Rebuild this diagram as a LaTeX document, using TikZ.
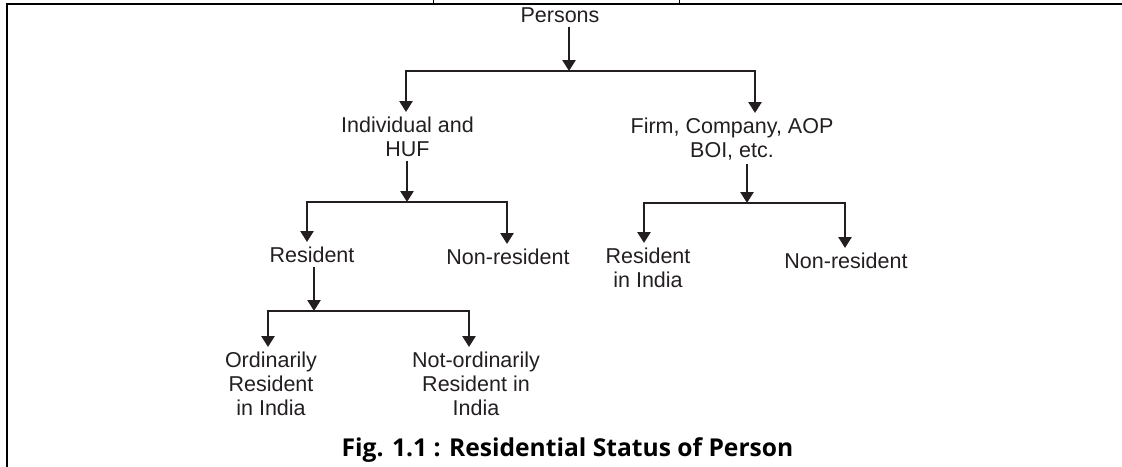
\documentclass[tikz,border=0pt]{standalone}
\usepackage{fontspec}
\setmainfont{Liberation Sans}
\newfontfamily\capfont{Open Sans}
\usetikzlibrary{arrows.meta}
\definecolor{ink}{HTML}{231F20}
\begin{document}
\begin{tikzpicture}[x=0.5pt,y=-0.5pt,
  lbl/.style={inner sep=2pt,anchor=base,align=center,text=ink,font=\fontsize{10.75pt}{12pt}\selectfont},
  conn/.style={draw=ink,line width=1.25pt},
  arr/.style={conn,-{Triangle[width=6.5pt,length=5.5pt]}},
  arrb/.style={conn,{Triangle[width=6.5pt,length=5.5pt]}-{Triangle[width=6.5pt,length=5.5pt]}},
  frame/.style={draw=black,line width=1.4pt},
  tick/.style={draw=black,line width=0.5pt}]
\useasboundingbox (0,0) rectangle (1122,466);
% frame
\coordinate (fbl) at (7,468);
\coordinate (ftl) at (7,4);
\coordinate (ftr) at (1124,4);
\draw[frame] (fbl) -- (ftl) -- (ftr);
\coordinate (t1a) at (433,-1); \coordinate (t1b) at (433,4);
\coordinate (t2a) at (679,-1); \coordinate (t2b) at (679,4);
\draw[tick] (t1a) -- (t1b);
\draw[tick] (t2a) -- (t2b);
% nodes (anchor = baseline of last line)
\node[lbl] (persons) at (560,22) {Persons};
\node[lbl] (ind) at (407.5,156) {Individual and\\HUF};
\node[lbl] (firm) at (732,157) {Firm, Company, AOP\\BOI, etc.};
\node[lbl] (res) at (312,262) {Resident};
\node[lbl] (nonres1) at (508,264) {Non-resident};
\node[lbl] (resin) at (648,287) {Resident\\in India};
\node[lbl] (nonres2) at (846,268) {Non-resident};
\node[lbl] (ord) at (271,415) {Ordinarily\\Resident\\in India};
\node[lbl] (notord) at (476,415) {Not-ordinarily\\Resident in\\India};
\node[anchor=base,inner sep=0pt,text=black,font=\capfont\bfseries\fontsize{12.3pt}{14pt}\selectfont] (cap) at (567.5,456) {Fig. 1.1 : Residential Status of Person};
% junctions
\coordinate (j1) at (569,71);
\coordinate (j1l) at (406,71);
\coordinate (j1r) at (755,71);
\coordinate (j2) at (407,202);
\coordinate (j2l) at (307,202);
\coordinate (j2r) at (507,202);
\coordinate (j3) at (747,203);
\coordinate (j3l) at (644,203);
\coordinate (j3r) at (845,203);
\coordinate (j4) at (314,311);
\coordinate (j4l) at (268,311);
\coordinate (j4r) at (469,311);
% connectors
\draw[arr] (persons.south -| j1) -- (j1);
\draw[arrb] (ind.north -| j1l) -- (j1l) -- (j1r) -- (firm.north -| j1r);
\draw[arr] (ind.south -| j2) -- (j2);
\draw[arrb] (res.north -| j2l) -- (j2l) -- (j2r) -- (nonres1.north -| j2r);
\draw[arr] (firm.south -| j3) -- (j3);
\draw[arrb] (resin.north -| j3l) -- (j3l) -- (j3r) -- (nonres2.north -| j3r);
\draw[arr] (res.south -| j4) -- (j4);
\draw[arrb] (ord.north -| j4l) -- (j4l) -- (j4r) -- (notord.north -| j4r);
\end{tikzpicture}
\end{document}
